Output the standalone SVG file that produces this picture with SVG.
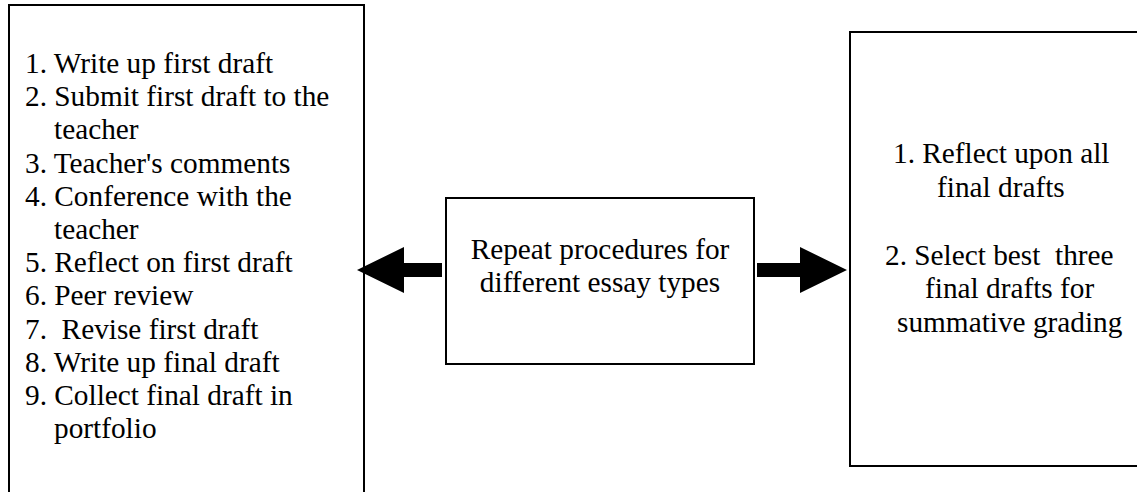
<svg xmlns="http://www.w3.org/2000/svg" width="1137" height="492" viewBox="0 0 1137 492">
<style>
.box{fill:#fff;stroke:#000;stroke-width:2}
.t{font-family:"Liberation Serif","Times New Roman",serif;font-size:29.3px;fill:#000}
.c{text-anchor:middle}
.arrow{fill:#000;stroke:none}
</style>
<rect width="1137" height="492" fill="#fff"/>
<g id="steps">
<rect class="box" x="9" y="5" width="355" height="500"/>
<text class="t" xml:space="preserve"><tspan x="25" y="73">1. Write up first draft</tspan><tspan x="25" y="106.2">2. Submit first draft to the</tspan><tspan x="54" y="139.4">teacher</tspan><tspan x="25" y="172.6">3. Teacher's comments</tspan><tspan x="25" y="205.8">4. Conference with the</tspan><tspan x="54" y="239">teacher</tspan><tspan x="25" y="272.2">5. Reflect on first draft</tspan><tspan x="25" y="305.4">6. Peer review</tspan><tspan x="25" y="338.6">7.  Revise first draft</tspan><tspan x="25" y="371.8">8. Write up final draft</tspan><tspan x="25" y="405">9. Collect final draft in</tspan><tspan x="54" y="438.2">portfolio</tspan></text>
</g>
<g id="repeat">
<rect class="box" x="446" y="198" width="308" height="166"/>
<text class="t c"><tspan x="600" y="259">Repeat procedures for</tspan><tspan x="600" y="292">different essay types</tspan></text>
</g>
<g id="final">
<rect class="box" x="850" y="32" width="300" height="434"/>
<text class="t" xml:space="preserve"><tspan x="893" y="163">1. Reflect upon all</tspan><tspan x="937" y="197">final drafts</tspan><tspan x="885" y="265">2. Select best  three</tspan><tspan x="925" y="298">final drafts for</tspan><tspan x="897" y="332">summative grading</tspan></text>
</g>
<g id="connectors">
<polygon class="arrow" points="357,270 404,247 404,263 442,263 442,277 404,277 404,293"/>
<polygon class="arrow" points="757,263 800,263 800,247 847,270 800,293 800,277 757,277"/>
</g>
</svg>
